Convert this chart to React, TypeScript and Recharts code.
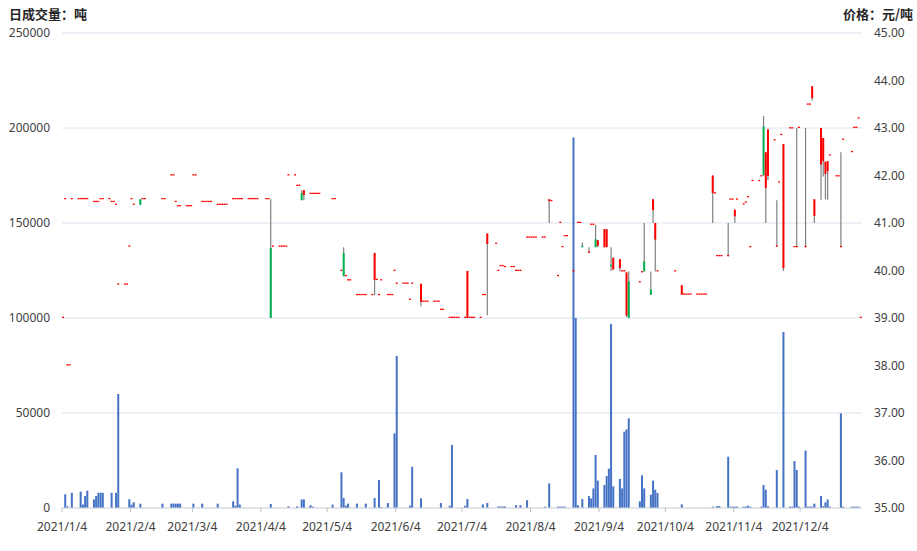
import React from 'react';
import { ComposedChart, Bar, XAxis, YAxis, CartesianGrid } from 'recharts';

// trading days are written as M/D (year 2021)
const priceDays = [
  '1/4', '1/5', '1/6', '1/7', '1/8', '1/11', '1/12', '1/13', '1/14', '1/15', '1/18', '1/19', '1/20', '1/21', '1/22', '1/25', '1/26', '1/27', '1/28', '1/29',
  '2/1', '2/2', '2/3', '2/4', '2/5', '2/8', '2/9', '2/10', '2/18', '2/19', '2/22', '2/23', '2/24', '2/25', '2/26',
  '3/1', '3/2', '3/3', '3/4', '3/5', '3/8', '3/9', '3/10', '3/11', '3/12', '3/15', '3/16', '3/17', '3/18', '3/19', '3/22', '3/23', '3/24', '3/25', '3/26', '3/29', '3/30', '3/31',
  '4/1', '4/2', '4/6', '4/7', '4/8', '4/9', '4/12', '4/13', '4/14', '4/15', '4/16', '4/19', '4/20', '4/21', '4/22', '4/23', '4/26', '4/27', '4/28', '4/29', '4/30',
  '5/6', '5/7', '5/10', '5/11', '5/12', '5/13', '5/14', '5/17', '5/18', '5/19', '5/20', '5/21', '5/24', '5/25', '5/26', '5/27', '5/28', '5/31',
  '6/1', '6/2', '6/3', '6/4', '6/7', '6/8', '6/9', '6/10', '6/11', '6/15', '6/16', '6/17', '6/18', '6/21', '6/22', '6/23', '6/24', '6/25', '6/28', '6/29', '6/30',
  '7/1', '7/2', '7/5', '7/6', '7/7', '7/8', '7/9', '7/12', '7/13', '7/14', '7/15', '7/19', '7/20', '7/21', '7/22', '7/23', '7/26', '7/27', '7/28', '7/29', '7/30',
  '8/2', '8/3', '8/4', '8/5', '8/6', '8/9', '8/10', '8/12', '8/13', '8/16', '8/17', '8/18', '8/19', '8/20', '8/23', '8/25', '8/26', '8/27', '8/30', '8/31',
  '9/1', '9/2', '9/3', '9/6', '9/7', '9/9', '9/10', '9/13', '9/14', '9/15', '9/16', '9/17', '9/22', '9/23', '9/24', '9/27', '9/28', '9/29', '9/30',
  '10/8', '10/11', '10/12', '10/13', '10/14', '10/15', '10/18', '10/19', '10/20', '10/21', '10/22', '10/25', '10/26', '10/27', '10/28', '10/29',
  '11/1', '11/2', '11/3', '11/4', '11/5', '11/8', '11/9', '11/10', '11/11', '11/12', '11/15', '11/16', '11/17', '11/18', '11/19', '11/22', '11/23', '11/24', '11/25', '11/26', '11/29', '11/30',
  '12/1', '12/2', '12/3', '12/6', '12/7', '12/8', '12/9', '12/10', '12/13', '12/14', '12/15', '12/16', '12/17', '12/20', '12/21', '12/22', '12/23', '12/27', '12/28', '12/29', '12/30', '12/31',
];

const closePrices = [
  39.0, 41.5, 38.0, 38.0, 41.5, 41.5, 41.5, 41.5, 41.5, 41.5, 41.44, 41.44, 41.44, 41.5, 41.5, 41.5, 41.44, 41.44, 41.38, 39.7,
  39.7, 39.7, 40.5, 41.5, 41.38, 41.38, 41.5, 41.5, 41.5, 41.5, 42.0, 42.0, 41.44, 41.35, 41.35,
  41.35, 41.35, 41.35, 42.0, 42.0, 41.44, 41.44, 41.44, 41.44, 41.44, 41.38, 41.38, 41.38, 41.38, 41.38, 41.5, 41.5, 41.5, 41.5, 41.5, 41.5, 41.5, 41.5,
  41.5, 41.5, 41.5, 41.5, 39.0, 40.5, 40.5, 40.5, 40.5, 40.5, 42.0, 42.0, 41.78, 41.78, 41.48, 41.69, 41.61, 41.61, 41.61, 41.61, 41.61,
  41.5, 41.5, 39.99, 39.88, 39.88, 39.79, 39.79, 39.48, 39.48, 39.48, 39.48, 39.48, 39.48, 40.37, 39.8, 39.48, 39.79, 39.48,
  39.48, 39.48, 39.99, 39.72, 39.72, 39.72, 39.72, 39.38, 39.72, 39.72, 39.34, 39.34, 39.34, 39.34, 39.34, 39.34, 39.17, 39.17, 39.0, 39.0, 39.0,
  39.0, 39.0, 39.0, 39.99, 39.0, 39.0, 39.0, 39.0, 39.48, 39.48, 40.78, 40.56, 39.99, 40.09, 40.09, 40.07, 40.07, 40.07, 39.99, 39.99, 39.99,
  40.69, 40.69, 40.69, 40.69, 40.69, 40.69, 40.69, 41.5, 41.46, 39.88, 41.0, 40.49, 40.72, 40.72, 39.98, 41.0, 41.0, 40.49, 40.37, 40.96,
  40.96, 40.49, 40.64, 40.87, 40.87, 40.09, 40.27, 40.24, 39.98, 39.98, 39.96, 39.0, 39.75, 39.96, 39.98, 39.49, 41.5, 41.0, 39.98,
  39.98, 39.69, 39.49, 39.49, 39.49, 39.49, 39.49, 39.49, 39.49, 39.49, 39.49, 42.0, 41.62, 40.3, 40.3, 40.3,
  40.3, 41.49, 41.49, 41.28, 41.49, 41.39, 41.43, 41.54, 40.49, 41.88, 41.88, 41.98, 42.0, 42.49, 42.97, 42.74, 40.5, 41.85, 42.85, 42.66, 42.99, 42.99,
  40.49, 40.49, 43.0, 40.49, 43.49, 43.49, 43.88, 41.5, 43.0, 42.79, 42.29, 42.3, 42.42, 41.98, 41.98, 40.49, 42.75, 42.49, 43.0, 43.0, 43.2, 39.0,
];

// days whose open / high / low differ from the close
const candleDays = [
  '2/8', '4/8', '4/22', '4/23', '5/11', '5/25', '6/15', '7/6', '7/15', '8/12', '8/27', '8/30',
  '9/2', '9/3', '9/6', '9/7', '9/9', '9/10', '9/13', '9/16', '9/17', '9/24', '9/27', '9/28', '9/29',
  '10/11', '10/25', '11/1', '11/4', '11/17', '11/18', '11/19', '11/23', '11/26',
  '12/2', '12/6', '12/9', '12/10', '12/13', '12/14', '12/15', '12/16', '12/22',
];
const candleOpen = [
  41.5, 40.47, 41.63, 41.59, 40.37, 39.8, 39.34, 39.0, 40.56, 41.46, 40.52, 40.37,
  40.66, 40.52, 40.49, 40.49, 40.12, 40.02, 40.05, 39.05, 39.77, 40.19, 39.6, 41.27, 40.65,
  39.49, 41.63, 40.3, 41.14, 43.03, 41.74, 41.99, 40.5, 40.05,
  40.49, 40.49, 43.63, 41.15, 42.23, 42.3, 42.03, 42.09, 40.49,
];
const candleHigh = [
  41.5, 41.5, 41.69, 41.69, 40.49, 40.37, 39.72, 39.99, 40.78, 41.5, 40.59, 40.49,
  40.96, 40.64, 40.87, 40.87, 40.49, 40.27, 40.24, 39.96, 39.98, 41.0, 39.98, 41.5, 41.0,
  39.69, 42.0, 41.0, 41.28, 43.25, 42.49, 42.97, 41.48, 42.66,
  43.0, 43.0, 43.88, 41.5, 43.0, 42.79, 42.29, 42.3, 42.49,
];
const candleLow = [
  41.38, 39.0, 41.48, 41.48, 39.88, 39.48, 39.25, 39.0, 39.06, 41.0, 40.49, 40.37,
  40.49, 40.49, 40.49, 40.49, 39.99, 40.02, 39.98, 39.02, 39.0, 39.98, 39.49, 41.0, 39.98,
  39.49, 41.0, 40.3, 41.0, 42.0, 41.0, 41.9, 40.5, 39.99,
  40.49, 40.49, 43.58, 41.0, 41.49, 41.98, 41.5, 41.49, 40.49,
];

const volumeDays = [
  '1/5', '1/6', '1/8', '1/12', '1/13', '1/14', '1/15', '1/18', '1/19', '1/20', '1/21', '1/22', '1/26', '1/28', '1/29',
  '2/3', '2/4', '2/5', '2/8', '2/18', '2/22', '2/23', '2/24', '2/25', '2/26',
  '3/4', '3/8', '3/15', '3/22', '3/23', '3/24', '3/25',
  '4/8', '4/16', '4/20', '4/22', '4/23', '4/26', '4/27',
  '5/6', '5/10', '5/11', '5/12', '5/13', '5/17', '5/21', '5/25', '5/27', '5/28', '5/31',
  '6/3', '6/4', '6/10', '6/11', '6/15', '6/24', '6/28', '6/29',
  '7/5', '7/6', '7/13', '7/15', '7/20', '7/21', '7/22', '7/23', '7/28', '7/30',
  '8/2', '8/10', '8/12', '8/16', '8/17', '8/18', '8/19', '8/23', '8/24', '8/25', '8/27', '8/30', '8/31',
  '9/1', '9/2', '9/3', '9/6', '9/7', '9/8', '9/9', '9/10', '9/13', '9/14', '9/15', '9/16', '9/17', '9/22', '9/23', '9/24', '9/27', '9/28', '9/29', '9/30',
  '10/11', '10/25', '10/27', '10/28',
  '11/1', '11/2', '11/3', '11/4', '11/5', '11/8', '11/9', '11/10', '11/11', '11/16', '11/17', '11/18', '11/19', '11/23', '11/26', '11/29', '11/30',
  '12/1', '12/2', '12/3', '12/6', '12/7', '12/8', '12/9', '12/10', '12/13', '12/14', '12/15', '12/16', '12/17', '12/22', '12/23', '12/27', '12/28', '12/29', '12/30',
];
const volumes = [
  7200, 900, 8000, 8600, 1800, 6300, 9100, 4500, 6300, 8000, 8000, 8000, 8000, 8000, 60000,
  4600, 1800, 3000, 2300, 2300, 2300, 2300, 2300, 2300, 2300,
  2300, 2300, 2300, 3500, 1200, 20900, 1800,
  2100, 900, 900, 4500, 4500, 1500, 700,
  1800, 18800, 5300, 1200, 2300, 2300, 2300, 5300, 14700, 500, 2600,
  39300, 80000, 1200, 21700, 5100, 2600, 1200, 33200,
  1200, 4700, 1900, 2600, 800, 800, 800, 800, 1500, 1500,
  4100, 700, 13000, 700, 700, 700, 700, 195000, 100000, 1500, 4700, 6300, 5000,
  10300, 27900, 14400, 12100, 16800, 20700, 96800, 11400, 15300, 10300, 40200, 41400, 47200, 3500, 17200, 10300, 7000, 14400, 9600, 7900,
  1900, 700, 1000, 1000,
  27000, 700, 700, 700, 700, 700, 700, 1200, 700, 700, 12100, 9600, 900, 20000, 92600, 700, 700,
  24700, 20000, 700, 30200, 700, 700, 700, 2300, 6300, 900, 3000, 4500, 700, 49800, 700, 700, 700, 700, 700,
];

const xTickLabels = [
  '2021/1/4', '2021/2/4', '2021/3/4', '2021/4/4', '2021/5/4', '2021/6/4',
  '2021/7/4', '2021/8/4', '2021/9/4', '2021/10/4', '2021/11/4', '2021/12/4',
];
const volumeTicks = [0, 50000, 100000, 150000, 200000, 250000];
const priceTicks = [35, 36, 37, 38, 39, 40, 41, 42, 43, 44, 45];

const PRICE_MIN = 35;
const PRICE_MAX = 45;
const X_END = 362;

if (typeof document !== 'undefined') document.body.style.margin = '0';

const dayOf = (s: string) => {
  const p = s.split('/').map(Number);
  const [m, d] = p.length === 3 ? [p[1], p[2]] : [p[0], p[1]];
  return Math.round((Date.UTC(2021, m - 1, d) - Date.UTC(2021, 0, 4)) / 86400000);
};

type Row = {
  t: number;
  volume: number;
  open: number | null;
  high: number | null;
  low: number | null;
  close: number | null;
  range: [number, number];
};

const rowMap = new Map<number, Row>();
const rowFor = (s: string) => {
  const d = dayOf(s);
  let r = rowMap.get(d);
  if (!r) {
    r = { t: d + 0.5, volume: 0, open: null, high: null, low: null, close: null, range: [PRICE_MIN, PRICE_MIN] };
    rowMap.set(d, r);
  }
  return r;
};
priceDays.forEach((s, i) => {
  const r = rowFor(s);
  const c = closePrices[i];
  r.open = c; r.high = c; r.low = c; r.close = c;
  r.range = [PRICE_MIN, c];
});
candleDays.forEach((s, i) => {
  const r = rowFor(s);
  r.open = candleOpen[i]; r.high = candleHigh[i]; r.low = candleLow[i];
  r.range = [PRICE_MIN, candleHigh[i]];
});
volumeDays.forEach((s, i) => { rowFor(s).volume = volumes[i]; });
const rows = [...rowMap.values()].sort((a, b) => a.t - b.t);

const xTicks = xTickLabels.map(dayOf);
const tickLabel = (v: number) => xTickLabels[xTicks.indexOf(v)] ?? '';

// bar is [35, high]; pixels per yuan come from its own height
const Candle = (props: any) => {
  const { x, y, width, height, payload } = props;
  if (!payload || payload.close == null || !height) return null;
  const { open, high, low, close } = payload;
  const ppu = height / (high - PRICE_MIN);
  const yOf = (v: number) => y + (high - v) * ppu;
  const cx = x + width / 2;
  const top = yOf(Math.max(open, close));
  const bottom = yOf(Math.min(open, close));
  const h = Math.max(bottom - top, 1.3);
  return (
    <g>
      {high > low && (
        <line x1={cx} x2={cx} y1={yOf(high)} y2={yOf(low)} stroke="#808080" strokeWidth={1.2} />
      )}
      <rect x={x} y={bottom - h} width={width} height={h} fill={close >= open ? '#FF0000' : '#00B050'} />
    </g>
  );
};

const tickStyle = { fill: '#404040', fontSize: 12 };

export default function App() {
  return (
    <div style={{ position: 'relative', width: 917, height: 551, fontFamily: '"Noto Sans", "Noto Sans CJK SC", sans-serif', background: '#fff' }}>
      <div style={{ position: 'absolute', left: 9, top: 5, fontSize: 13, lineHeight: '17px', fontWeight: 'bold', color: '#262626', fontFamily: '"Noto Sans CJK SC", sans-serif' }}>
        日成交量：吨
      </div>
      <div style={{ position: 'absolute', right: 4, top: 5, fontSize: 13, lineHeight: '17px', fontWeight: 'bold', color: '#262626', fontFamily: '"Noto Sans CJK SC", sans-serif' }}>
        价格：元/吨
      </div>
      <ComposedChart width={917} height={551} data={rows} margin={{ top: 33, right: 0, bottom: 0, left: 0 }}>
        <CartesianGrid vertical={false} xAxisId="v" yAxisId="vol" stroke="#DCE3EF" />
        <XAxis
          xAxisId="v"
          dataKey="t"
          type="number"
          domain={[0, X_END]}
          ticks={xTicks}
          interval={0}
          tickFormatter={tickLabel}
          height={43}
          tickSize={4}
          tickMargin={10}
          tick={tickStyle}
          stroke="#BFBFBF"
          axisLine={{ stroke: '#D9D9D9' }}
        />
        <XAxis xAxisId="c" dataKey="t" type="number" domain={[0, X_END]} orientation="top" height={0} hide />
        <YAxis
          yAxisId="vol"
          orientation="left"
          width={62}
          domain={[0, 250000]}
          ticks={volumeTicks}
          interval={0}
          axisLine={false}
          tickLine={false}
          tickMargin={6}
          tick={tickStyle}
        />
        <YAxis
          yAxisId="price"
          orientation="right"
          width={55}
          domain={[PRICE_MIN, PRICE_MAX]}
          ticks={priceTicks}
          interval={0}
          axisLine={false}
          tickLine={false}
          tickMargin={6}
          tick={{ ...tickStyle, textAnchor: 'start' }}
          tickFormatter={(v: number) => v.toFixed(2)}
        />
        <Bar xAxisId="v" yAxisId="vol" dataKey="volume" fill="#4472C4" barSize={2} isAnimationActive={false} />
        <Bar xAxisId="c" yAxisId="price" dataKey="range" barSize={2} shape={<Candle />} isAnimationActive={false} />
      </ComposedChart>
    </div>
  );
}
